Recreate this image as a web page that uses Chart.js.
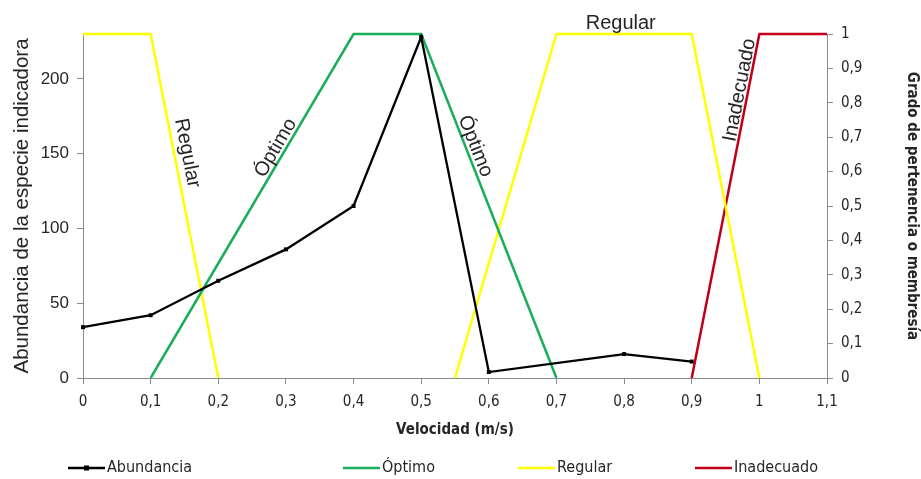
<!DOCTYPE html>
<html lang="es">
<head>
<meta charset="utf-8">
<script src="https://cdn.jsdelivr.net/npm/chart.js@4.4.1/dist/chart.umd.min.js"></script>
<style>
  html, body { margin: 0; padding: 0; background: #fff; }
  #caja { width: 921px; height: 479px; position: relative; }
</style>
</head>
<body>
<div id="caja"><canvas id="grafica"></canvas></div>
<script>
// Abundancia observada por velocidad de corriente
const velocidad = [0, 0.1, 0.2, 0.3, 0.4, 0.5, 0.6, 0.8, 0.9];
const abundancia = [34, 42, 65, 86, 115, 228, 4, 16, 11];

// Funciones de pertenencia (eje derecho)
const optimoX = [0.1, 0.4, 0.5, 0.7];
const optimoY = [0, 1, 1, 0];
const regularIzqX = [0, 0.1, 0.2];
const regularIzqY = [1, 1, 0];
const regularDerX = [0.55, 0.7, 0.9, 1];
const regularDerY = [0, 1, 1, 0];
const inadecuadoX = [0.9, 1, 1.1];
const inadecuadoY = [0, 1, 1];

const ticksAbundancia = [0, 50, 100, 150, 200];

const puntos = (xs, ys) => xs.map((x, i) => ({ x: x, y: ys[i] }));
const coma = v => String(Number(v.toFixed(1))).replace('.', ',');

const fuenteArial = "'Liberation Sans', Arial, sans-serif";
const fuenteEstrecha = "'Liberation Sans Narrow', 'DejaVu Sans Condensed', sans-serif";
const gris = '#8a8a8a';
const texto = '#262626';

const colores = {
    abundancia: '#000000',
    optimo: '#1aae5b',
    regular: '#ffff00',
    inadecuado: '#c00018'
};

// Rótulos sobre las rectas: centro en coordenadas de datos y tramo que marca la inclinación
const rotulos = [
    { texto: 'Regular', x: 0.154, y: 0.654, tramo: [[0.1, 1], [0.2, 0]] },
    { texto: 'Óptimo', x: 0.285, y: 0.669, tramo: [[0.1, 0], [0.4, 1]] },
    { texto: 'Óptimo', x: 0.580, y: 0.674, tramo: [[0.5, 1], [0.7, 0]] },
    { texto: 'Regular', x: 0.795, y: 1.03, tramo: null },
    { texto: 'Inadecuado', x: 0.971, y: 0.837, tramo: [[0.9, 0], [1, 1]] }
];

const rotulosPlugin = {
    id: 'rotulos',
    afterDatasetsDraw(chart) {
        const { ctx, scales } = chart;
        const sx = scales.x, sy = scales.y1;
        ctx.save();
        ctx.font = '20px ' + fuenteArial;
        ctx.fillStyle = texto;
        ctx.textAlign = 'center';
        ctx.textBaseline = 'middle';
        rotulos.forEach(r => {
            let ang = 0;
            if (r.tramo) {
                const dx = sx.getPixelForValue(r.tramo[1][0]) - sx.getPixelForValue(r.tramo[0][0]);
                const dy = sy.getPixelForValue(r.tramo[1][1]) - sy.getPixelForValue(r.tramo[0][1]);
                ang = Math.atan2(dy, dx);
                if (ang > Math.PI / 2) ang -= Math.PI;
                if (ang < -Math.PI / 2) ang += Math.PI;
            }
            ctx.save();
            ctx.translate(sx.getPixelForValue(r.x), sy.getPixelForValue(r.y));
            ctx.rotate(ang);
            ctx.fillText(r.texto, 0, 0);
            ctx.restore();
        });
        ctx.restore();
    }
};

// Leyenda inferior con los elementos repartidos a lo ancho
const leyenda = [
    { texto: 'Abundancia', color: colores.abundancia, marca: true, x: 68 },
    { texto: 'Óptimo', color: colores.optimo, marca: false, x: 343 },
    { texto: 'Regular', color: colores.regular, marca: false, x: 518 },
    { texto: 'Inadecuado', color: colores.inadecuado, marca: false, x: 695 }
];

const leyendaPlugin = {
    id: 'leyendaInferior',
    afterDraw(chart) {
        const ctx = chart.ctx;
        const y = 468;
        ctx.save();
        ctx.font = '16px ' + fuenteEstrecha;
        ctx.textBaseline = 'middle';
        ctx.textAlign = 'left';
        leyenda.forEach(item => {
            ctx.strokeStyle = item.color;
            ctx.lineWidth = 2.5;
            ctx.beginPath();
            ctx.moveTo(item.x, y);
            ctx.lineTo(item.x + 37, y);
            ctx.stroke();
            if (item.marca) {
                ctx.fillStyle = item.color;
                ctx.fillRect(item.x + 16, y - 2.5, 5, 5);
            }
            ctx.fillStyle = texto;
            ctx.fillText(item.texto, item.x + 39, y);
        });
        ctx.restore();
    }
};

new Chart(document.getElementById('grafica'), {
    type: 'line',
    data: {
        datasets: [
            {
                label: 'Abundancia',
                data: puntos(velocidad, abundancia),
                yAxisID: 'y',
                borderColor: colores.abundancia,
                backgroundColor: colores.abundancia,
                borderWidth: 2.3,
                pointStyle: 'rect',
                pointRadius: 2.8,
                pointBorderWidth: 0,
                tension: 0,
                clip: false
            },
            {
                label: 'Óptimo',
                data: puntos(optimoX, optimoY),
                yAxisID: 'y1',
                borderColor: colores.optimo,
                borderWidth: 2.5,
                pointRadius: 0,
                clip: false
            },
            {
                label: 'Regular',
                data: puntos(regularIzqX, regularIzqY),
                yAxisID: 'y1',
                borderColor: colores.regular,
                borderWidth: 2.5,
                pointRadius: 0,
                clip: false
            },
            {
                label: 'Regular',
                data: puntos(regularDerX, regularDerY),
                yAxisID: 'y1',
                borderColor: colores.regular,
                borderWidth: 2.5,
                pointRadius: 0,
                clip: false
            },
            {
                label: 'Inadecuado',
                data: puntos(inadecuadoX, inadecuadoY),
                yAxisID: 'y1',
                borderColor: colores.inadecuado,
                borderWidth: 2.5,
                pointRadius: 0,
                clip: false
            }
        ]
    },
    options: {
        responsive: true,
        maintainAspectRatio: false,
        animation: false,
        layout: { padding: { top: 34, left: 0, right: 0, bottom: 31 } },
        plugins: {
            legend: { display: false },
            tooltip: { enabled: false }
        },
        scales: {
            x: {
                type: 'linear',
                min: 0,
                max: 1.1,
                afterFit: s => { s.height = 70; },
                ticks: {
                    stepSize: 0.1,
                    padding: 9,
                    color: texto,
                    font: { family: fuenteEstrecha, size: 15 },
                    callback: v => coma(v)
                },
                grid: { drawOnChartArea: false, drawTicks: true, tickLength: 6, color: gris },
                border: { color: gris, width: 1 },
                title: {
                    display: true,
                    text: 'Velocidad (m/s)',
                    color: texto,
                    padding: { top: 0, bottom: 9 },
                    font: { family: fuenteEstrecha, size: 15, weight: 'bold' }
                }
            },
            y: {
                position: 'left',
                min: 0,
                max: 230,
                afterFit: s => { s.width = 83; },
                afterBuildTicks: s => { s.ticks = ticksAbundancia.map(v => ({ value: v })); },
                ticks: {
                    padding: 8,
                    color: texto,
                    font: { family: fuenteArial, size: 17 }
                },
                grid: { drawOnChartArea: false, drawTicks: true, tickLength: 6, color: gris },
                border: { color: gris, width: 1 },
                title: {
                    display: true,
                    text: 'Abundancia de la especie indicadora',
                    color: texto,
                    padding: { top: 10, bottom: 0 },
                    font: { family: fuenteArial, size: 20.5 }
                }
            },
            y1: {
                position: 'right',
                min: 0,
                max: 1,
                afterFit: s => { s.width = 94; },
                ticks: {
                    stepSize: 0.1,
                    padding: 8,
                    color: texto,
                    font: { family: fuenteEstrecha, size: 15 },
                    callback: v => coma(v)
                },
                grid: { drawOnChartArea: false, drawTicks: true, tickLength: 6, color: gris },
                border: { color: gris, width: 1 },
                title: {
                    display: true,
                    text: 'Grado de pertenencia o membresía',
                    color: texto,
                    padding: { top: 0, bottom: 0 },
                    font: { family: fuenteEstrecha, size: 15, weight: 'bold' }
                }
            }
        }
    },
    plugins: [rotulosPlugin, leyendaPlugin]
});
</script>
</body>
</html>
